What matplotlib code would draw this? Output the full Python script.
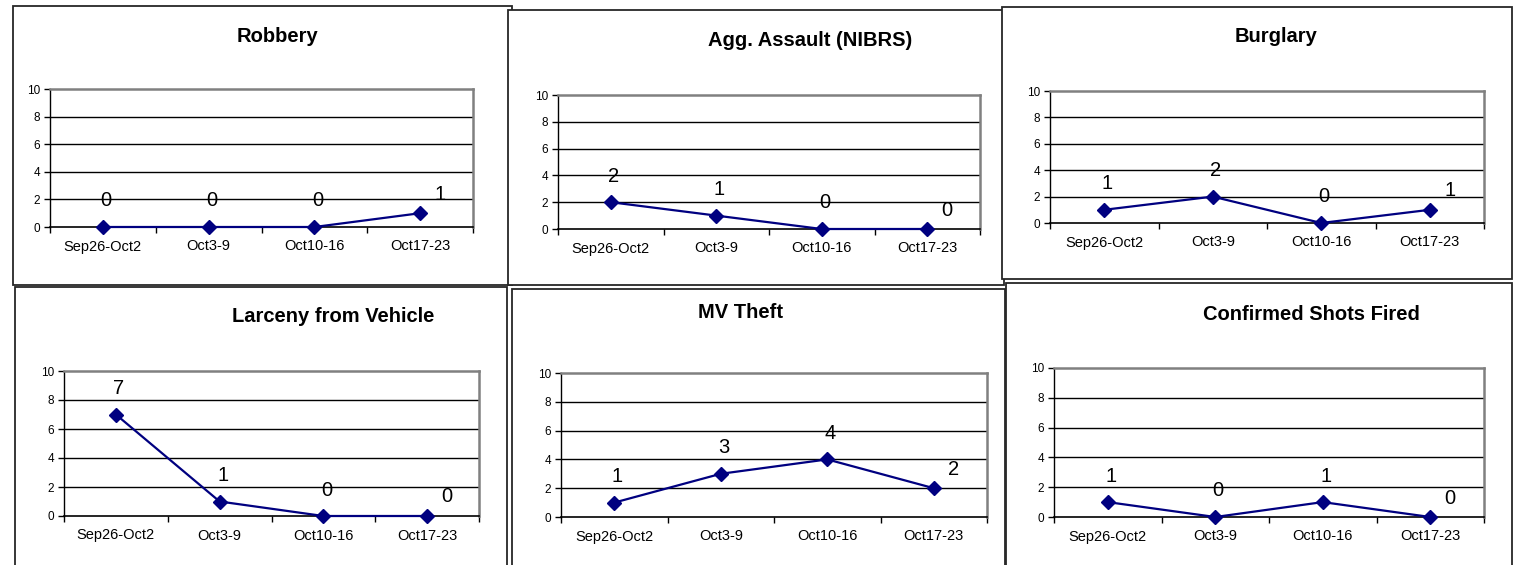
import matplotlib
matplotlib.use('Agg')
import matplotlib.pyplot as plt
from matplotlib.patches import Rectangle

plt.rcParams['font.family'] = ['Liberation Sans', 'DejaVu Sans']

weeks = ['Sep26-Oct2', 'Oct3-9', 'Oct10-16', 'Oct17-23']

titles = ['Robbery', 'Agg. Assault (NIBRS)', 'Burglary',
          'Larceny from Vehicle', 'MV Theft', 'Confirmed Shots Fired']

robbery = [0, 0, 0, 1]
agg_assault = [2, 1, 0, 0]
burglary = [1, 2, 0, 1]
larceny_vehicle = [7, 1, 0, 0]
mv_theft = [1, 3, 4, 2]
shots_fired = [1, 0, 1, 0]

series = [robbery, agg_assault, burglary, larceny_vehicle, mv_theft, shots_fired]

W, H = 1523, 565
DPI = 100

# layout in pixels from the top-left corner: (left, top, right, bottom)
frames = [(13, 6, 512, 285), (1002, 7, 1512, 279), (508, 10, 1004, 285),
          (15, 287, 507, 566), (512, 289, 1005, 566), (1006, 283, 1512, 566)]
frame_order = [0, 2, 1, 3, 4, 5]
plot_boxes = [(50, 89, 473, 227), (558, 95, 980, 229), (1050, 91, 1484, 223),
              (64, 371, 479, 516), (561, 373, 987, 517), (1054, 368, 1484, 517)]
title_pos = [(278, 37), (810, 40), (1276, 36), (333, 317), (741, 313), (1311, 314)]

NAVY = '#000080'

fig = plt.figure(figsize=(W / DPI, H / DPI), dpi=DPI)
fig.patch.set_facecolor('white')

# chart frames, drawn in stacking order
for k, idx in enumerate(frame_order):
    l, t, r, b = frames[idx]
    fig.patches.append(Rectangle((l / W, 1 - b / H), (r - l) / W, (b - t) / H,
                                 transform=fig.transFigure, facecolor='white',
                                 edgecolor='#262626', linewidth=1.3, zorder=k))

for i, values in enumerate(series):
    l, t, r, b = plot_boxes[i]
    ax = fig.add_axes([l / W, 1 - b / H, (r - l) / W, (b - t) / H], zorder=10)
    ax.set_facecolor('white')
    x = list(range(len(weeks)))
    ax.plot(x, values, color=NAVY, linewidth=1.6, marker='D', markersize=7,
            markerfacecolor=NAVY, markeredgecolor=NAVY, zorder=5, clip_on=False)

    ax.set_xlim(-0.5, 3.5)
    ax.set_ylim(0, 10)
    ax.set_yticks([0, 2, 4, 6, 8, 10])
    ax.tick_params(axis='y', labelsize=8.5, length=4, width=1, direction='out', pad=3)
    ax.set_xticks(x, weeks)
    ax.tick_params(axis='x', which='major', length=0, labelsize=10.5, pad=9)
    ax.set_xticks([-0.5, 0.5, 1.5, 2.5, 3.5], minor=True)
    ax.tick_params(axis='x', which='minor', length=4, width=1, direction='out')

    for yv in [2, 4, 6, 8]:
        ax.axhline(yv, color='black', linewidth=1, zorder=1)

    ax.spines['top'].set_color('#808080')
    ax.spines['right'].set_color('#808080')
    ax.spines['top'].set_linewidth(1.8)
    ax.spines['right'].set_linewidth(1.8)
    ax.spines['left'].set_color('black')
    ax.spines['bottom'].set_color('black')
    ax.spines['left'].set_linewidth(1)
    ax.spines['bottom'].set_linewidth(1.2)

    # value labels: last one sits further right, like the source workbook
    for j, v in enumerate(values):
        dx, dy = (3, 26) if j < len(values) - 1 else (20, 19)
        ax.annotate(str(v), (j, v), xytext=(dx, dy), textcoords='offset pixels',
                    ha='center', va='center', fontsize=14.5, color='black',
                    annotation_clip=False)

    tx, ty = title_pos[i]
    fig.text(tx / W, 1 - ty / H, titles[i], ha='center', va='center',
             fontsize=14.5, fontweight='bold', zorder=20)

fig.savefig('out.png', dpi=DPI, facecolor='white')
